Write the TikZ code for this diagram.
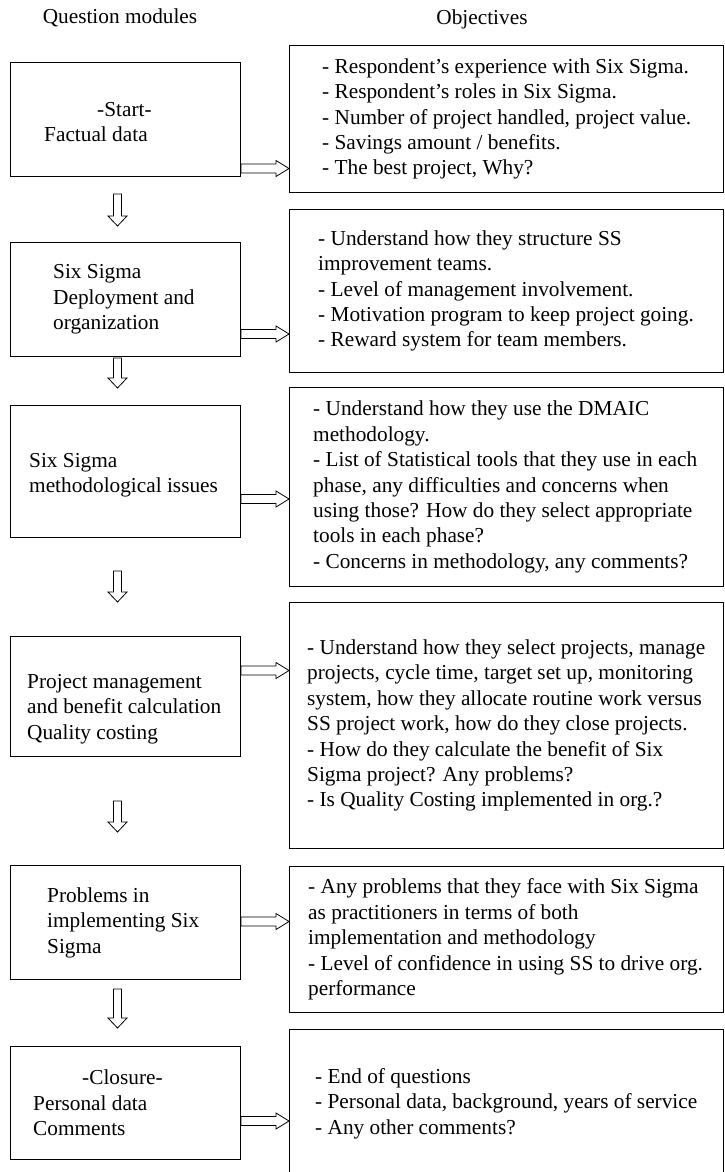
\documentclass[tikz,border=0pt]{standalone}
\usepackage{fontspec}
\setmainfont{Liberation Serif}
\usetikzlibrary{calc, positioning}
% outlined block arrows between named points
\newcommand{\fatright}[2]{%
  \draw[fatline] ($(#1)+(0,-4.5)$) -- ($(#2)+(-13,-4.5)$) -- ($(#2)+(-13,-8)$) -- (#2)
    -- ($(#2)+(-13,8)$) -- ($(#2)+(-13,4.5)$) -- ($(#1)+(0,4.5)$) -- cycle;}
\newcommand{\fatdown}[2]{%
  \draw[fatline] ($(#1)+(-4,0)$) -- ($(#2)+(-4,-10)$) -- ($(#2)+(-9.5,-10)$) -- (#2)
    -- ($(#2)+(9.5,-10)$) -- ($(#2)+(4,-10)$) -- ($(#1)+(4,0)$) -- cycle;}

\begin{document}
\begin{tikzpicture}[x=1pt, y=-1pt,
  font=\fontsize{21.3}{25.4}\selectfont,
  box/.style={draw, line width=1pt, anchor=north west, inner sep=0pt},
  modbox/.style={box, minimum width=230pt, minimum height=#1},
  objbox/.style={box, minimum width=434pt, minimum height=#1},
  boxtext/.style={align=left, inner sep=0pt},
  fatline/.style={draw, line width=0.8pt, line join=miter}]
  \useasboundingbox (0,0) rectangle (724,1172);

  % column heads
  \node (qmod) at (120,18) {Question modules};
  \node (qobj) at (482,19) {Objectives};

  % question modules
  \node[modbox=114pt] (mod1) at (10,62) {};
  \node[modbox=114pt] (mod2) at (10,242) {};
  \node[modbox=132pt] (mod3) at (10,405) {};
  \node[modbox=120pt] (mod4) at (10,636) {};
  \node[modbox=114pt] (mod5) at (10,865) {};
  \node[modbox=113pt] (mod6) at (10,1046) {};

  \node[boxtext, right=34pt of mod1.west, yshift=-2.5pt] {\hspace*{53pt}-Start-\\Factual data};
  \node[boxtext, right=43pt of mod2.west] {Six Sigma\\Deployment and\\organization};
  \node[boxtext, right=19pt of mod3.west, yshift=-3.5pt] {Six Sigma\\methodological issues};
  \node[boxtext, right=17pt of mod4.west, yshift=-12.5pt] {Project management\\and benefit calculation\\Quality costing};
  \node[boxtext, right=37pt of mod5.west] {Problems in\\implementing Six\\Sigma};
  \node[boxtext, right=23pt of mod6.west] {\hspace*{49pt}-Closure-\\Personal data\\Comments};

  % objectives
  \node[objbox=147pt] (obj1) at (289,45) {};
  \node[objbox=163pt] (obj2) at (289,209) {};
  \node[objbox=199pt] (obj3) at (289,387) {};
  \node[objbox=246pt] (obj4) at (289,602) {};
  \node[objbox=146pt] (obj5) at (289,866) {};
  \node[objbox=148pt] (obj6) at (289,1029) {};

  \node[boxtext, right=33pt of obj1.west] {- Respondent's experience with Six Sigma.\\- Respondent's roles in Six Sigma.\\- Number of project handled, project value.\\- Savings amount / benefits.\\- The best project, Why?};
  \node[boxtext, right=29pt of obj2.west] {- Understand how they structure SS\\improvement teams.\\- Level of management involvement.\\- Motivation program to keep project going.\\- Reward system for team members.};
  \node[boxtext, right=24pt of obj3.west] {- Understand how they use the DMAIC\\methodology.\\- List of Statistical tools that they use in each\\phase, any difficulties and concerns when\\using those? How do they select appropriate\\tools in each phase?\\- Concerns in methodology, any comments?};
  \node[boxtext, right=18pt of obj4.west] {- Understand how they select projects, manage\\projects, cycle time, target set up, monitoring\\system, how they allocate routine work versus\\SS project work, how do they close projects.\\- How do they calculate the benefit of Six\\Sigma project? Any problems?\\- Is Quality Costing implemented in org.?};
  \node[boxtext, right=19pt of obj5.west] {- Any problems that they face with Six Sigma\\as practitioners in terms of both\\implementation and methodology\\- Level of confidence in using SS to drive org.\\performance};
  \node[boxtext, right=26pt of obj6.west] {- End of questions\\- Personal data, background, years of service\\- Any other comments?};

  % module -> objective arrows
  \coordinate (h1s) at (mod1.east |- 0,168.5);  \coordinate (h1e) at (obj1.west |- 0,168.5);
  \coordinate (h2s) at (mod2.east |- 0,334);    \coordinate (h2e) at (obj2.west |- 0,334);
  \coordinate (h3s) at (mod3.east |- 0,499);    \coordinate (h3e) at (obj3.west |- 0,499);
  \coordinate (h4s) at (mod4.east |- 0,670.5);  \coordinate (h4e) at (obj4.west |- 0,670.5);
  \coordinate (h5s) at (mod5.east |- 0,921.5);  \coordinate (h5e) at (obj5.west |- 0,921.5);
  \coordinate (h6s) at (mod6.east |- 0,1121);   \coordinate (h6e) at (obj6.west |- 0,1121);
  \fatright{h1s}{h1e}
  \fatright{h2s}{h2e}
  \fatright{h3s}{h3e}
  \fatright{h4s}{h4e}
  \fatright{h5s}{h5e}
  \fatright{h6s}{h6e}

  % module -> module arrows
  \coordinate (v1s) at ([shift={(-8pt,-17pt)}]mod1.south);  \coordinate (v1e) at ([shift={(-8pt,16pt)}]mod2.north);
  \coordinate (v2s) at ([shift={(-8pt,-1pt)}]mod2.south);   \coordinate (v2e) at ([shift={(-8pt,17pt)}]mod3.north);
  \coordinate (v3s) at ([shift={(-8pt,-33pt)}]mod3.south);  \coordinate (v3e) at ([shift={(-8pt,34pt)}]mod4.north);
  \coordinate (v4s) at ([shift={(-8pt,-44pt)}]mod4.south);  \coordinate (v4e) at ([shift={(-8pt,33pt)}]mod5.north);
  \coordinate (v5s) at ([shift={(-8pt,-9pt)}]mod5.south);   \coordinate (v5e) at ([shift={(-8pt,18pt)}]mod6.north);
  \fatdown{v1s}{v1e}
  \fatdown{v2s}{v2e}
  \fatdown{v3s}{v3e}
  \fatdown{v4s}{v4e}
  \fatdown{v5s}{v5e}
\end{tikzpicture}
\end{document}
